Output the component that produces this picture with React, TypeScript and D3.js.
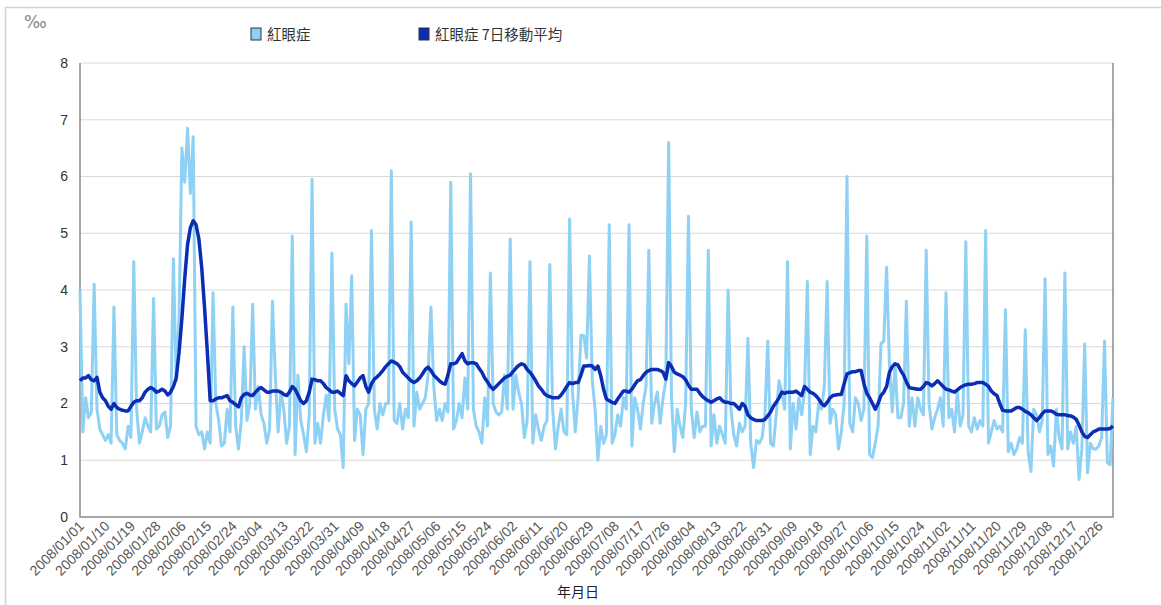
import React, { useEffect, useRef } from "react";
import * as d3 from "d3";

// daily rate (per mille), 2008/01/01 .. 2008/12/31
const dailyRate = [
  4.0, 1.5, 2.1, 1.75, 1.85,
  4.1, 1.9, 1.55, 1.45, 1.35, 1.45, 1.3,
  3.7, 1.45, 1.35, 1.3, 1.2, 1.6, 1.4,
  4.5, 1.9, 1.3, 1.5, 1.75, 1.6, 1.5,
  3.85, 1.55, 1.6, 1.8, 1.85, 1.4, 1.6,
  4.55, 2.4, 3.5, 6.5, 5.9, 6.85, 5.7,
  6.7, 1.6, 1.45, 1.5, 1.2, 1.5, 1.3,
  3.95, 2.0, 1.7, 1.25, 1.3, 1.9, 1.5,
  3.7, 1.6, 1.2, 1.7, 3.0, 1.7, 2.0,
  3.75, 1.9, 2.3, 1.8, 1.65, 1.3, 1.55,
  3.8, 2.5, 1.5, 2.2, 1.9, 1.3, 1.6,
  4.95, 1.1, 2.5, 1.7, 1.45, 1.15, 1.8,
  5.95, 1.3, 1.65, 1.3, 1.8, 2.15, 1.7,
  4.65, 1.9, 1.55, 1.45, 0.87, 3.75, 2.7,
  4.25, 1.35, 1.9, 1.8, 1.1, 1.9, 2.0,
  5.05, 1.9, 1.55, 2.0, 1.8, 2.0, 2.0,
  6.1, 1.7, 1.65, 2.0, 1.55, 1.9, 1.75,
  5.2, 1.6, 2.2, 1.9, 2.0, 2.1, 2.5,
  3.7, 2.3, 1.7, 1.9, 1.7, 2.0, 1.85,
  5.9, 1.55, 1.7, 2.0, 1.75, 2.45, 1.9,
  6.05, 1.9, 1.6, 1.5, 1.3, 2.1, 1.6,
  4.3, 2.0, 1.85, 1.8, 1.85, 2.5, 1.9,
  4.9, 1.9, 2.5, 2.2, 2.0, 1.4, 1.7,
  4.5, 1.3, 1.8, 1.55, 1.35, 1.6, 1.7,
  4.45, 1.9, 1.2, 1.6, 1.9, 1.5, 1.45,
  5.25, 2.2, 1.5, 2.1, 3.2, 3.2, 2.8,
  4.6, 2.4, 1.9, 1.0, 1.6, 1.3, 1.45,
  5.15, 1.3, 1.45, 1.8, 1.6, 2.1, 1.9,
  5.15, 1.25, 2.1, 1.9, 1.55, 2.0, 2.3,
  4.7, 1.65, 2.0, 2.2, 1.65, 2.1, 2.4,
  6.6, 2.1, 1.15, 1.9, 1.6, 1.4, 2.0,
  5.3, 1.9, 1.4, 1.85, 1.5, 1.6, 1.6,
  4.7, 1.25, 1.8, 1.3, 1.6, 1.45, 1.3,
  4.0, 1.9, 1.45, 1.25, 1.65, 1.5, 1.6,
  3.15, 1.3, 0.87, 1.35, 1.3, 1.4, 1.8,
  3.1, 1.3, 1.25, 1.8, 2.4, 2.2, 1.9,
  4.5, 1.2, 2.0, 1.55, 2.1, 1.8, 2.2,
  4.15, 1.1, 1.6, 1.5, 2.0, 1.9, 2.3,
  4.15, 1.65, 1.9, 1.8, 1.2, 1.5, 2.0,
  6.0, 1.65, 1.5, 2.1, 2.0, 1.7, 1.9,
  4.95, 1.1, 1.05, 1.3, 1.6, 3.05, 3.1,
  4.4, 2.7, 1.85, 2.7, 1.75, 1.75, 2.0,
  3.8, 1.6, 2.1, 1.6, 2.1, 1.9, 1.8,
  4.7, 2.0, 1.55, 1.75, 1.9, 2.1, 1.6,
  3.95, 1.75, 1.9, 1.5, 2.2, 1.6, 1.8,
  4.85, 1.6, 1.5, 1.75, 1.55, 1.7, 1.6,
  5.05, 1.3, 1.5, 1.7, 1.55, 1.6, 1.5,
  3.65, 1.15, 1.3, 1.1, 1.2, 1.4, 1.3,
  3.3, 1.15, 0.8, 1.9, 1.8, 1.5, 1.7,
  4.2, 1.1, 1.25, 0.9, 1.9, 1.4, 1.2,
  4.3, 1.2, 1.5, 1.3, 1.6, 0.66, 1.2,
  3.05, 0.78, 1.3, 1.2, 1.2, 1.25, 1.4,
  3.1, 0.96, 0.92, 2.1,
];

// 7 day moving average, same days
const movingAvg = [
  2.4, 2.45, 2.45, 2.49, 2.42, 2.4, 2.46, 2.2, 2.1, 2.05,
  1.95, 1.9, 2.0, 1.93, 1.9, 1.88, 1.87, 1.87, 1.95, 2.02,
  2.05, 2.05, 2.1, 2.2, 2.25, 2.28, 2.25, 2.2, 2.22, 2.25,
  2.22, 2.15, 2.2, 2.3, 2.45, 2.9, 3.5, 4.2, 4.8, 5.1,
  5.22, 5.15, 4.9, 4.4, 3.7, 2.9, 2.05, 2.05, 2.08, 2.1,
  2.1, 2.12, 2.14, 2.05, 2.02, 1.98, 1.94, 2.1, 2.16, 2.18,
  2.15, 2.14, 2.2, 2.25, 2.28, 2.24, 2.2, 2.2, 2.22, 2.22,
  2.22, 2.2, 2.16, 2.14, 2.2, 2.3, 2.25, 2.15, 2.05, 2.0,
  2.05, 2.2, 2.43, 2.42, 2.4, 2.4, 2.35, 2.28, 2.24, 2.2,
  2.2, 2.22, 2.18, 2.14, 2.49, 2.4, 2.35, 2.31, 2.38, 2.45,
  2.49, 2.3, 2.2, 2.35, 2.43, 2.47, 2.52, 2.58, 2.65, 2.7,
  2.75, 2.73, 2.7, 2.65, 2.55, 2.5, 2.45, 2.4, 2.37, 2.4,
  2.45, 2.52, 2.6, 2.64, 2.58, 2.5, 2.45, 2.4, 2.36, 2.34,
  2.5, 2.7, 2.7, 2.72, 2.8, 2.88, 2.75, 2.7, 2.72, 2.72,
  2.7, 2.62, 2.55, 2.45, 2.38, 2.3, 2.25, 2.3, 2.35, 2.4,
  2.45, 2.48, 2.5, 2.56, 2.62, 2.67, 2.7, 2.68, 2.6, 2.55,
  2.48, 2.4, 2.31, 2.25, 2.18, 2.14, 2.12, 2.1, 2.1, 2.1,
  2.15, 2.22, 2.3, 2.37, 2.35, 2.37, 2.37, 2.5, 2.66, 2.66,
  2.67, 2.66, 2.6, 2.66, 2.49, 2.25, 2.08, 2.05, 2.02, 2.0,
  2.08, 2.15, 2.22, 2.22, 2.2, 2.25, 2.33, 2.4, 2.42, 2.49,
  2.55, 2.58, 2.6, 2.6, 2.6, 2.58, 2.55, 2.43, 2.72, 2.65,
  2.55, 2.52, 2.5, 2.47, 2.42, 2.32, 2.25, 2.25, 2.25, 2.18,
  2.12, 2.08, 2.05, 2.02, 2.05, 2.08, 2.1, 2.05, 2.02, 2.02,
  2.0, 2.0, 1.95, 1.9, 2.0, 1.95, 1.8, 1.75, 1.72, 1.7,
  1.7, 1.7, 1.72, 1.78, 1.85, 1.95, 2.02, 2.1, 2.2, 2.18,
  2.2, 2.2, 2.2, 2.22, 2.18, 2.14, 2.3, 2.25, 2.2, 2.18,
  2.14, 2.08, 2.0, 1.96, 2.02, 2.1, 2.14, 2.15, 2.16, 2.16,
  2.35, 2.52, 2.54, 2.56, 2.56, 2.58, 2.58, 2.35, 2.18, 2.1,
  2.0, 1.9, 2.0, 2.14, 2.2, 2.3, 2.55, 2.65, 2.7, 2.68,
  2.58, 2.5, 2.38, 2.28, 2.27, 2.26, 2.25, 2.25, 2.3, 2.37,
  2.35, 2.31, 2.35, 2.4, 2.35, 2.3, 2.25, 2.24, 2.22, 2.2,
  2.24, 2.28, 2.31, 2.33, 2.34, 2.34, 2.35, 2.37, 2.37, 2.37,
  2.34, 2.3, 2.22, 2.17, 2.14, 2.0, 1.88, 1.87, 1.87, 1.87,
  1.9, 1.93, 1.93, 1.9, 1.86, 1.84, 1.8, 1.75, 1.7, 1.75,
  1.82, 1.87, 1.87, 1.87, 1.85, 1.81, 1.8, 1.8, 1.8, 1.79,
  1.78, 1.76, 1.72, 1.62, 1.5, 1.42, 1.4, 1.45, 1.5, 1.52,
  1.55, 1.55, 1.55, 1.55, 1.56, 1.6,
];

// one label every 9 days
const tickLabels = [
  "2008/01/01", "2008/01/10", "2008/01/19", "2008/01/28", "2008/02/06", "2008/02/15",
  "2008/02/24", "2008/03/04", "2008/03/13", "2008/03/22", "2008/03/31", "2008/04/09",
  "2008/04/18", "2008/04/27", "2008/05/06", "2008/05/15", "2008/05/24", "2008/06/02",
  "2008/06/11", "2008/06/20", "2008/06/29", "2008/07/08", "2008/07/17", "2008/07/26",
  "2008/08/04", "2008/08/13", "2008/08/22", "2008/08/31", "2008/09/09", "2008/09/18",
  "2008/09/27", "2008/10/06", "2008/10/15", "2008/10/24", "2008/11/02", "2008/11/11",
  "2008/11/20", "2008/11/29", "2008/12/08", "2008/12/17", "2008/12/26",
];
const yTicks = [0, 1, 2, 3, 4, 5, 6, 7, 8];
const seriesNames = ["紅眼症", "紅眼症 7日移動平均"];

const LIGHT = "#8fd1f4";
const DARK = "#0b2db4";

export default function App() {
  const ref = useRef<SVGSVGElement>(null);

  useEffect(() => {
    const svg = d3.select(ref.current);
    svg.selectAll("*").remove();

    const width = 1161;
    const height = 605;
    const left = 80, right = 1113, top = 63, bottom = 517;

    const xScale = d3.scaleLinear().domain([0, 365]).range([left, right]);
    const yScale = d3.scaleLinear().domain([0, 8]).range([bottom, top]);

    svg.attr("width", width).attr("height", height);

    // outer frame
    svg.append("rect")
      .attr("x", 5.5).attr("y", 7.5).attr("width", 1200).attr("height", 700)
      .attr("fill", "none").attr("stroke", "#d3d3d3").attr("stroke-width", 1.5);

    // gridlines
    svg.append("g").selectAll("line").data(yTicks.filter(d => d > 0)).join("line")
      .attr("x1", left).attr("x2", right)
      .attr("y1", d => yScale(d)).attr("y2", d => yScale(d))
      .attr("stroke", "#d9d9d9").attr("stroke-width", 1);

    // axes
    const yAxis = d3.axisLeft(yScale).tickValues(yTicks).tickSize(0).tickPadding(12);
    const gy = svg.append("g").attr("transform", `translate(${left},0)`).call(yAxis);
    gy.select(".domain").remove();
    gy.selectAll("text").attr("font-family", "Liberation Sans, Arial, sans-serif")
      .attr("font-size", 14).attr("fill", "#333");

    const frame = d3.path();
    frame.moveTo(left, top);
    frame.lineTo(left, bottom);
    frame.lineTo(right, bottom);
    frame.lineTo(right, top);
    svg.append("path").attr("d", frame.toString()).attr("fill", "none")
      .attr("stroke", "#8a8a8a").attr("stroke-width", 1.5);

    // x labels
    svg.append("g").selectAll("text").data(tickLabels).join("text")
      .attr("transform", (d, i) => `translate(${xScale(i * 9) + 5},${bottom + 10}) rotate(-45)`)
      .attr("text-anchor", "end")
      .attr("font-family", "Liberation Sans, Arial, sans-serif")
      .attr("font-size", 14)
      .attr("fill", "#555")
      .text(d => d);

    // lines
    const line = d3.line<number>()
      .x((d, i) => xScale(i))
      .y(d => yScale(d));

    svg.append("path").datum(dailyRate).attr("d", line)
      .attr("fill", "none").attr("stroke", LIGHT).attr("stroke-width", 3)
      .attr("stroke-linejoin", "round");
    svg.append("path").datum(movingAvg).attr("d", line)
      .attr("fill", "none").attr("stroke", DARK).attr("stroke-width", 3.5)
      .attr("stroke-linejoin", "round");

    // legend
    const legendX = [251, 419];
    const legendColors = [LIGHT, DARK];
    seriesNames.forEach((name, i) => {
      svg.append("rect").attr("x", legendX[i]).attr("y", 28).attr("width", 10).attr("height", 12)
        .attr("fill", legendColors[i]).attr("stroke", "#333").attr("stroke-width", 1);
      svg.append("text").attr("x", legendX[i] + 16).attr("y", 39.5)
        .attr("font-family", "Noto Sans CJK TC, sans-serif").attr("font-size", 14.5)
        .attr("fill", "#333").text(name);
    });

    // unit + axis title
    svg.append("text").attr("x", 24).attr("y", 28)
      .attr("font-family", "DejaVu Sans, sans-serif").attr("font-size", 17)
      .attr("fill", "#888").text("‰");
    svg.append("text").attr("x", 578).attr("y", 597).attr("text-anchor", "middle")
      .attr("font-family", "Noto Sans CJK TC, sans-serif").attr("font-size", 14)
      .attr("fill", "#222").text("年月日");
  }, []);

  return (
    <div style={{ position: "absolute", left: 0, top: 0, width: 1161, height: 605, background: "#fff" }}>
      <svg ref={ref} style={{ display: "block" }}></svg>
    </div>
  );
}
